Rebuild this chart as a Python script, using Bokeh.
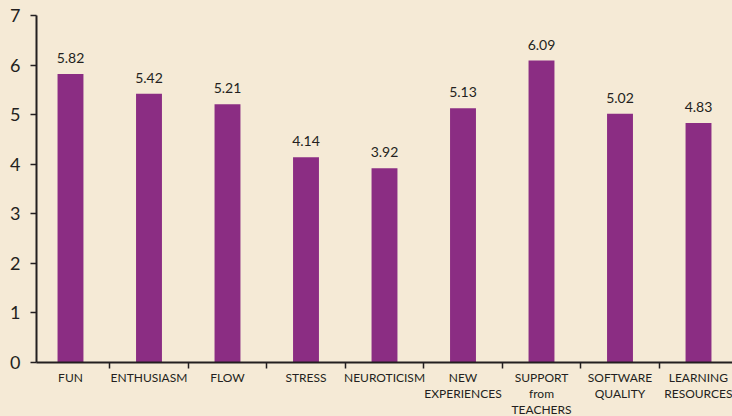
from bokeh.plotting import figure
from bokeh.models import FixedTicker, Range1d, ColumnDataSource
from bokeh.core.properties import value
from bokeh.embed import file_html
from bokeh.resources import INLINE

categories = ["FUN", "ENTHUSIASM", "FLOW", "STRESS", "NEUROTICISM",
              "NEW\nEXPERIENCES", "SUPPORT\nfrom\nTEACHERS",
              "SOFTWARE\nQUALITY", "LEARNING\nRESOURCES"]
values = [5.82, 5.42, 5.21, 4.14, 3.92, 5.13, 6.09, 5.02, 4.83]
value_labels = ["5.82", "5.42", "5.21", "4.14", "3.92", "5.13", "6.09", "5.02", "4.83"]
y_ticks = [0, 1, 2, 3, 4, 5, 6, 7]

BG = "#F5EAD6"
BAR = "#8B2D83"
INK = "#231F20"
FONT = "Lato"

xs = list(range(len(categories)))
src = ColumnDataSource(dict(x=xs, top=values, label=value_labels))

p = figure(frame_width=696, frame_height=347, output_backend="svg", toolbar_location=None,
           x_range=Range1d(-0.433, 8.433), y_range=Range1d(0, 7),
           min_border_left=36, min_border_right=0, min_border_top=15, min_border_bottom=54)
p.background_fill_color = BG
p.border_fill_color = BG
p.outline_line_color = None
p.grid.visible = False

p.vbar(x="x", top="top", width=0.33, bottom=0, source=src,
       fill_color=BAR, line_color=None)
p.text(x="x", y="top", text="label", source=src, text_align="center",
       text_baseline="alphabetic", y_offset=-16, text_font=value(FONT),
       text_font_size="14px", text_color=INK)

xa = p.xaxis[0]
xa.ticker = FixedTicker(ticks=xs, minor_ticks=[i + 0.5 for i in range(-1, len(xs))])
xa.major_label_overrides = {i: c for i, c in enumerate(categories)}
xa.major_tick_in = 0
xa.major_tick_out = 0
xa.minor_tick_in = 0
xa.minor_tick_out = 6
xa.major_label_standoff = 1
xa.major_label_text_font = FONT
xa.major_label_text_font_size = "12px"
xa.major_label_text_color = INK
xa.major_label_text_line_height = 1.07

ya = p.yaxis[0]
ya.ticker = FixedTicker(ticks=y_ticks)
ya.major_tick_in = 0
ya.major_tick_out = 6
ya.minor_tick_line_color = None
ya.major_label_standoff = 10
ya.major_label_text_font = FONT
ya.major_label_text_font_size = "18px"
ya.major_label_text_color = INK

for ax in (xa, ya):
    ax.axis_line_color = INK
    ax.axis_line_width = 2
    ax.major_tick_line_color = INK
    ax.major_tick_line_width = 1.5
    ax.minor_tick_line_color = INK if ax is xa else None
    ax.minor_tick_line_width = 1.5

template = ("{% block preamble %}<style>html, body { background-color: " + BG +
            "; margin: 0; padding: 0; overflow: hidden; }</style>{% endblock %}")
open("out.html", "w").write(file_html(p, INLINE, template=template))
